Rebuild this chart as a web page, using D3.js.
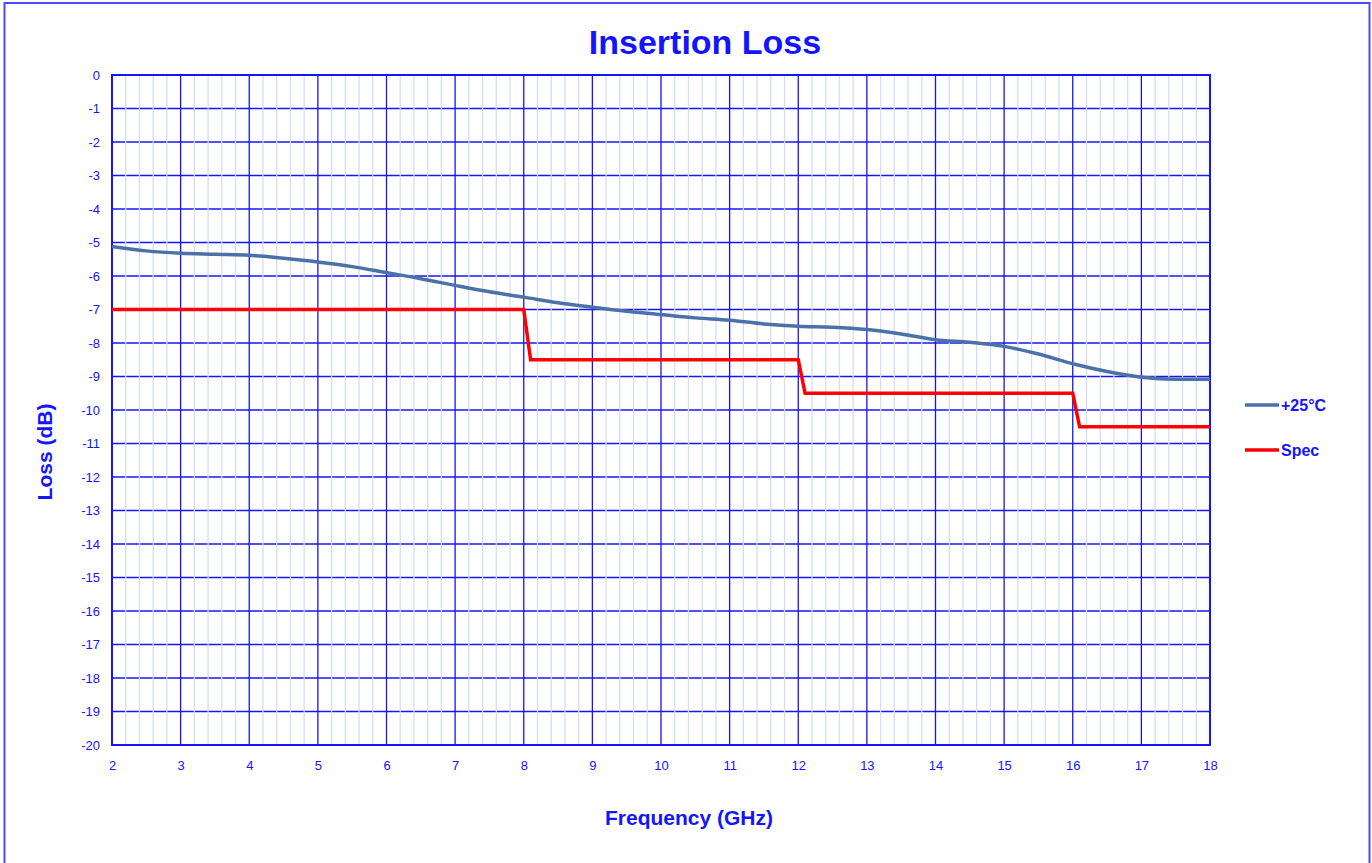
<!DOCTYPE html>
<html><head><meta charset="utf-8">
<script src="https://cdn.jsdelivr.net/npm/d3@7"></script>
<style>body{margin:0;background:#fff;}svg{display:block;}</style>
</head><body>
<script>
const freq = [2,2.5,3,3.5,4,4.5,5,5.5,6,6.5,7,7.5,8,8.5,9,9.5,10,10.5,11,11.5,12,12.5,13,13.5,14,14.5,15,15.5,16,16.5,17,17.5,18];
const loss25 = [-5.12,-5.25,-5.32,-5.35,-5.38,-5.47,-5.58,-5.72,-5.9,-6.08,-6.28,-6.47,-6.63,-6.8,-6.93,-7.05,-7.15,-7.25,-7.32,-7.43,-7.5,-7.53,-7.6,-7.73,-7.9,-7.98,-8.1,-8.33,-8.62,-8.85,-9.02,-9.08,-9.08];
const specFreq = [2,8,8.1,12,12.1,16,16.1,18];
const specLoss = [-7,-7,-8.5,-8.5,-9.5,-9.5,-10.5,-10.5];
const xTicks = d3.range(2,19,1);
const yTicks = d3.range(0,-21,-1);
const seriesNames = ["+25°C","Spec"];
const seriesColors = ["#4a72a8","#ff0000"];

const W=1372,H=863;
const blue="#1414ff";
const svg=d3.select("body").append("svg").attr("width",W).attr("height",H);
svg.append("rect").attr("x",4.5).attr("y",3).attr("width",1365).attr("height",880).attr("fill","#fff").attr("stroke","#4a4aff").attr("stroke-width",2);

const x=d3.scaleLinear().domain([2,18]).range([112,1210]);
const y=d3.scaleLinear().domain([0,-20]).range([75,745]);
const font="'Liberation Sans', Arial, sans-serif";
const fmt=d=>String(d);

const g=svg.append("g");
g.selectAll(".hg").data(yTicks).join("line").attr("x1",x(2)).attr("x2",x(18))
 .attr("y1",d=>y(d)).attr("y2",d=>y(d)).attr("stroke",blue).attr("stroke-width",1.3);
const minors=d3.range(2,18.001,0.2).filter(v=>Math.abs(v-Math.round(v))>1e-6);
g.selectAll(".mv").data(minors).join("line").attr("x1",d=>x(d)).attr("x2",d=>x(d))
 .attr("y1",y(0)).attr("y2",y(-20)).attr("stroke","#d3dff1").attr("stroke-width",1.3);
g.selectAll(".Mv").data(xTicks).join("line").attr("x1",d=>x(d)).attr("x2",d=>x(d))
 .attr("y1",y(0)).attr("y2",y(-20)).attr("stroke",blue).attr("stroke-width",1.3);
g.append("rect").attr("x",x(2)).attr("y",y(0)).attr("width",x(18)-x(2)).attr("height",y(-20)-y(0))
 .attr("fill","none").attr("stroke",blue).attr("stroke-width",2);

const xa=svg.append("g").attr("transform",`translate(0,${y(-20)})`).call(d3.axisBottom(x).tickValues(xTicks).tickSize(0).tickPadding(16).tickFormat(fmt));
xa.select(".domain").remove();
xa.selectAll("text").attr("fill",blue).attr("font-size",13).attr("font-family",font);
const ya=svg.append("g").attr("transform",`translate(${x(2)},0)`).call(d3.axisLeft(y).tickValues(yTicks).tickSize(0).tickPadding(12).tickFormat(fmt));
ya.select(".domain").remove();
ya.selectAll("text").attr("fill",blue).attr("font-size",13).attr("font-family",font);

const line=d3.line().x(d=>x(d[0])).y(d=>y(d[1]));
const curve=d3.line().x(d=>x(d[0])).y(d=>y(d[1])).curve(d3.curveMonotoneX);
svg.append("path").datum(freq.map((f,i)=>[f,loss25[i]])).attr("d",curve).attr("fill","none")
 .attr("stroke",seriesColors[0]).attr("stroke-width",3.5);
svg.append("path").datum(specFreq.map((f,i)=>[f,specLoss[i]])).attr("d",line).attr("fill","none")
 .attr("stroke",seriesColors[1]).attr("stroke-width",3.5);

svg.append("text").attr("x",705).attr("y",54).attr("text-anchor","middle").attr("fill",blue)
 .attr("font-family",font).attr("font-weight","bold").attr("font-size",34).text("Insertion Loss");
svg.append("text").attr("x",689).attr("y",825).attr("text-anchor","middle").attr("fill",blue)
 .attr("font-family",font).attr("font-weight","bold").attr("font-size",21).text("Frequency (GHz)");
svg.append("text").attr("transform","translate(52,452) rotate(-90)").attr("text-anchor","middle").attr("fill",blue)
 .attr("font-family",font).attr("font-weight","bold").attr("font-size",21).text("Loss (dB)");

const lg=svg.append("g");
seriesNames.forEach((n,i)=>{
  const yy=405+i*45;
  lg.append("line").attr("x1",1245).attr("x2",1279).attr("y1",yy).attr("y2",yy).attr("stroke",seriesColors[i]).attr("stroke-width",3.5);
  lg.append("text").attr("x",1281).attr("y",yy+6).attr("fill",blue).attr("font-family",font)
    .attr("font-weight","bold").attr("font-size",16).text(n);
});
</script>
</body></html>
